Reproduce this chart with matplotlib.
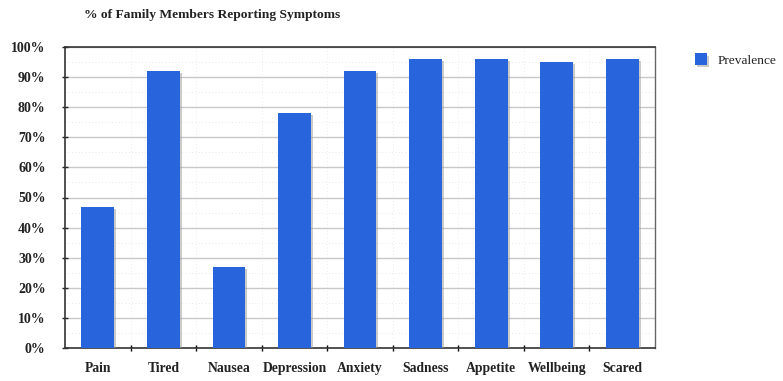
import matplotlib
matplotlib.use("Agg")
import matplotlib.pyplot as plt
from matplotlib.ticker import MultipleLocator, FixedLocator, FuncFormatter
import matplotlib.patheffects as pe

categories = ["Pain", "Tired", "Nausea", "Depression", "Anxiety", "Sadness", "Appetite", "Wellbeing", "Scared"]
prevalence = [47, 92, 27, 78, 92, 96, 96, 95, 96]
series_name = "Prevalence"
title = "% of Family Members Reporting Symptoms"

plt.rcParams['font.family'] = ['Liberation Serif', 'DejaVu Serif']
plt.rcParams['font.weight'] = 'bold'

fig = plt.figure(figsize=(7.83, 3.81), dpi=100)
W, H = 783, 381
ax = fig.add_axes([65 / W, 1 - 348 / H, (655 - 65) / W, (348 - 47) / H])

x = list(range(len(categories)))
bars = ax.bar(x, prevalence, width=0.5, color="#2864DC", zorder=3, label=series_name)
for b in bars:
    b.set_path_effects([pe.SimplePatchShadow(offset=(1.5, -1.5), shadow_rgbFace="#999999", alpha=0.5), pe.Normal()])

ax.set_xlim(-0.5, len(categories) - 0.5)
ax.set_ylim(0, 100)
ax.yaxis.set_major_locator(MultipleLocator(10))
ax.yaxis.set_minor_locator(MultipleLocator(5))
ax.yaxis.set_major_formatter(FuncFormatter(lambda v, p: f"{int(v)}%"))
ax.grid(axis='y', which='major', color="#c8c8c8", linewidth=1, zorder=0)
ax.grid(axis='y', which='minor', color="#e0e0e0", linewidth=0.6, linestyle=(0, (1, 3)), zorder=0)

ax.set_xticks(x)
ax.set_xticklabels(categories, fontsize=9.8, fontweight='bold', color="#222222")
ax.tick_params(axis='x', length=0, pad=10)
ax.xaxis.set_minor_locator(FixedLocator([i + 0.5 for i in range(len(categories) - 1)]))
ax.tick_params(axis='x', which='minor', length=4, direction='inout', width=1)
ax.grid(axis='x', which='minor', color="#e6e6e6", linewidth=0.6, linestyle=(0, (1, 3)), zorder=0)
ax.tick_params(axis='y', labelsize=10, length=4, direction='inout', width=1, colors="#222222", pad=12)
ax.tick_params(axis='y', which='minor', length=0)
for lab in ax.get_yticklabels():
    lab.set_fontweight('bold')

for s in ax.spines.values():
    s.set_color("#333333")
    s.set_linewidth(1.2)
ax.spines['right'].set_color("#666666")
ax.spines['right'].set_linewidth(1)

fig.text(212 / W, 1 - 15 / H, title, ha='center', va='center', fontsize=9.7, fontweight='bold', color="#222222")

leg = fig.legend(handles=[bars], labels=[series_name], loc='center left', bbox_to_anchor=(690 / W, 1 - 60 / H),
                 frameon=False, prop={'size': 9.6, 'weight': 'normal'}, handlelength=0.9, handleheight=0.9,
                 handletextpad=0.8, borderaxespad=0)
for t in leg.get_texts():
    t.set_color("#222222")

fig.savefig("out.png", dpi=100)
